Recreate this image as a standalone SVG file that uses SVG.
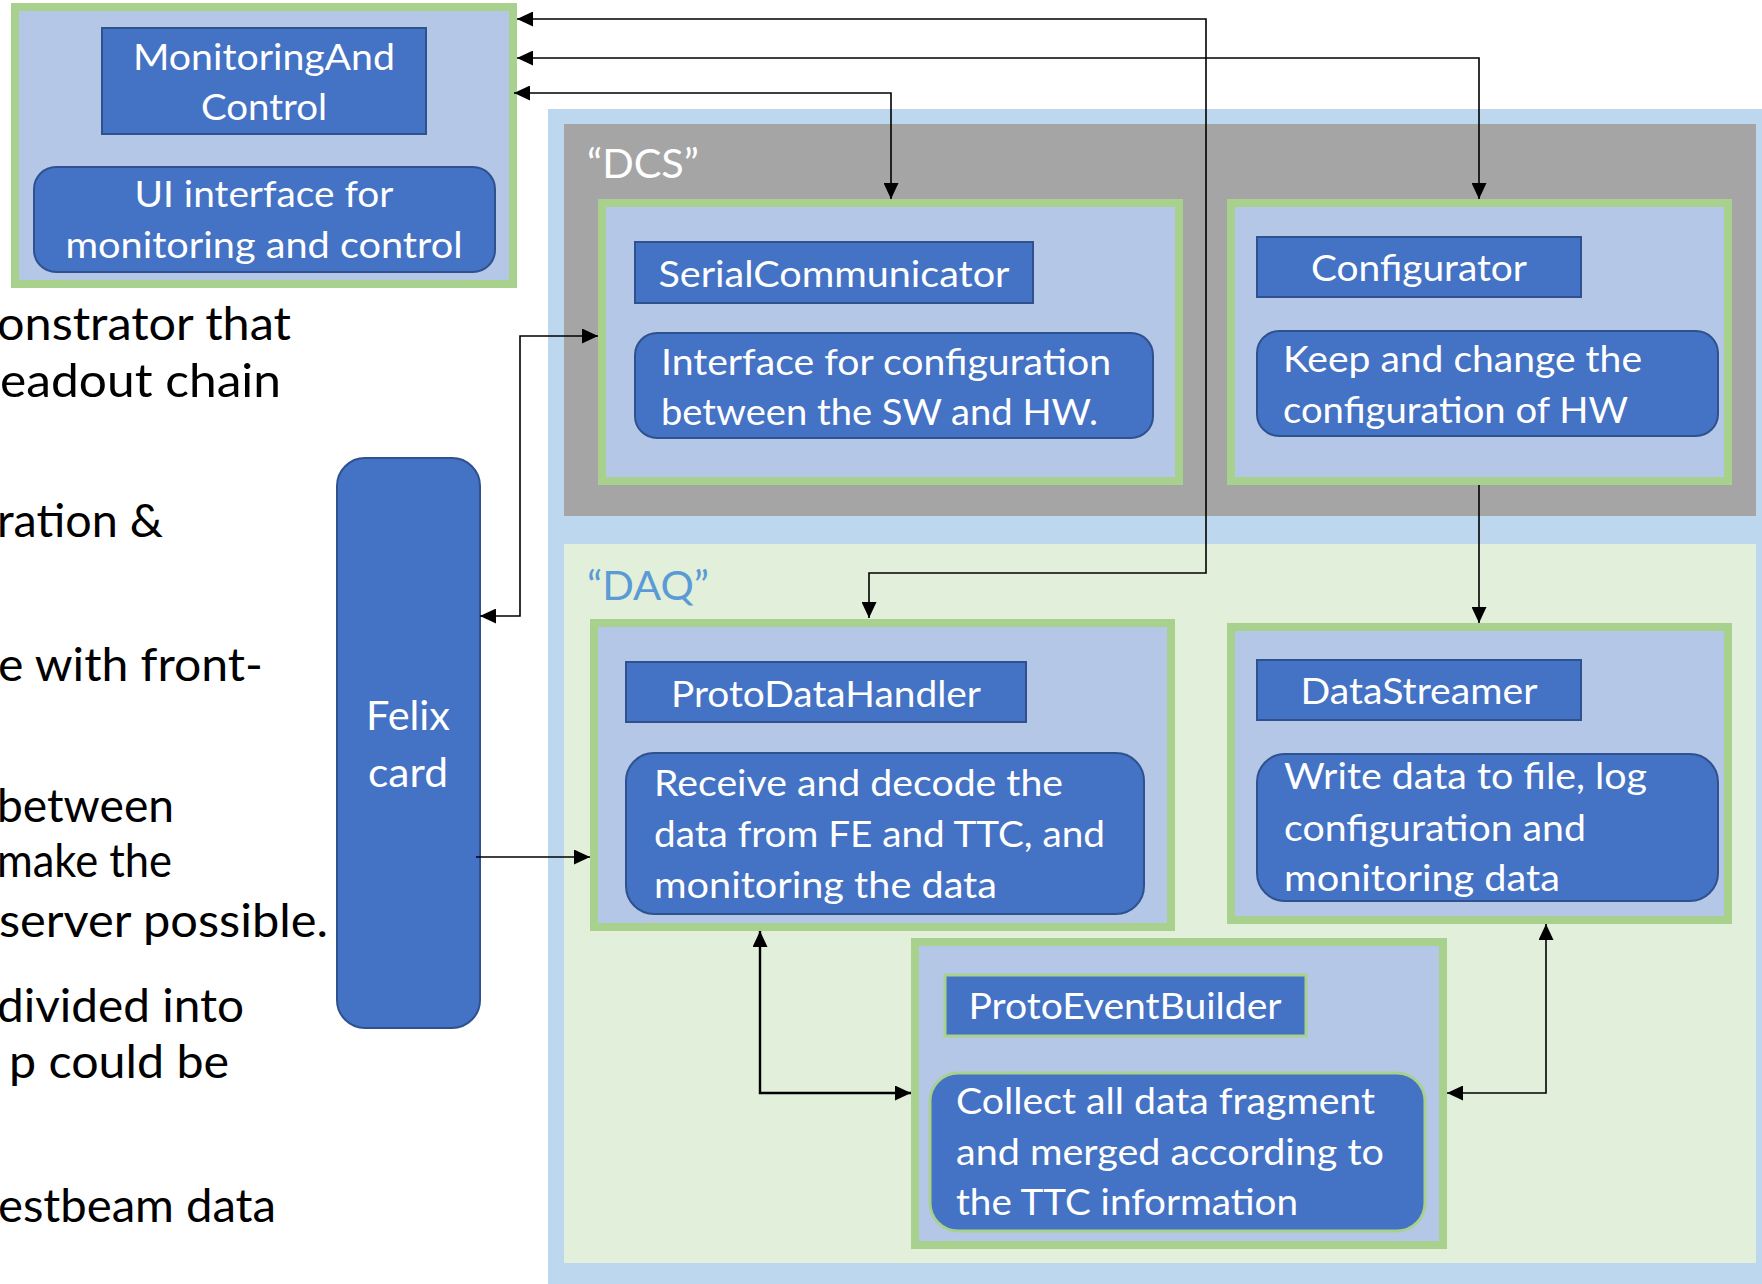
<svg xmlns="http://www.w3.org/2000/svg" width="1762" height="1284" viewBox="0 0 1762 1284">
  <style>
    .frame { fill: #B4C7E7; stroke: #A9D18E; stroke-width: 8; }
    .box { fill: #4472C4; stroke: #2F528F; stroke-width: 2; }
    .box-g { fill: #4472C4; stroke: #A9D18E; stroke-width: 3; }
    .t { font-family: Lato, "Open Sans", "Liberation Sans", sans-serif; fill: #FFFFFF; font-size: 37.5px; }
    .c { text-anchor: middle; }
    .big { font-size: 41px; }
    .body { font-family: Lato, "Open Sans", "Liberation Sans", sans-serif; fill: #000000; font-size: 46.5px; }
    .wire { fill: none; stroke: #000000; stroke-width: 1.6; }
    .wire-b { fill: none; stroke: #000000; stroke-width: 2.4; }
  </style>
  <defs>
    <marker id="arrow" viewBox="0 0 16 15" refX="16" refY="7.5" markerWidth="16" markerHeight="15" markerUnits="userSpaceOnUse" orient="auto-start-reverse">
      <path d="M0,0 L16,7.5 L0,15 z" fill="#000000"/>
    </marker>
  </defs>

  <rect width="1762" height="1284" fill="#FFFFFF"/>

  <!-- body text on the left -->
  <g id="body-text">
    <text class="body" x="-3" y="340" textLength="294" lengthAdjust="spacingAndGlyphs">onstrator that</text>
    <text class="body" x="0" y="397" textLength="281" lengthAdjust="spacingAndGlyphs">eadout chain</text>
    <text class="body" x="-3" y="537" textLength="166" lengthAdjust="spacingAndGlyphs">ration &amp;</text>
    <text class="body" x="-2" y="681" textLength="265" lengthAdjust="spacingAndGlyphs">e with front-</text>
    <text class="body" x="-3" y="822" textLength="177" lengthAdjust="spacingAndGlyphs">between</text>
    <text class="body" x="-3" y="877" textLength="175" lengthAdjust="spacingAndGlyphs">make the</text>
    <text class="body" x="-1" y="937" textLength="329" lengthAdjust="spacingAndGlyphs">server possible.</text>
    <text class="body" x="-3" y="1022" textLength="247" lengthAdjust="spacingAndGlyphs">divided into</text>
    <text class="body" x="9" y="1078" textLength="220" lengthAdjust="spacingAndGlyphs">p could be</text>
    <text class="body" x="-2" y="1222" textLength="278" lengthAdjust="spacingAndGlyphs">estbeam data</text>
  </g>

  <!-- outer system container with the DCS and DAQ areas -->
  <g id="system">
    <rect x="548" y="109" width="1214" height="1175" fill="#BDD7EE"/>
    <rect x="564" y="124" width="1192" height="392" fill="#A5A5A5"/>
    <rect x="564" y="544" width="1192" height="719" fill="#E2EFDA"/>
    <text class="t big" x="587" y="178" textLength="112" lengthAdjust="spacingAndGlyphs">“DCS”</text>
    <text class="t big" x="587" y="600" style="fill:#5B9BD5" textLength="122" lengthAdjust="spacingAndGlyphs">“DAQ”</text>
  </g>

  <!-- MonitoringAndControl -->
  <g id="monitoring-and-control">
    <rect class="frame" x="15" y="7" width="498" height="277"/>
    <rect class="box" x="102" y="28" width="324" height="106"/>
    <text class="t c" x="264" y="70" textLength="262" lengthAdjust="spacingAndGlyphs">MonitoringAnd</text>
    <text class="t c" x="264" y="120" textLength="126" lengthAdjust="spacingAndGlyphs">Control</text>
    <rect class="box" x="34" y="167" width="461" height="105" rx="22"/>
    <text class="t c" x="264" y="207" textLength="259" lengthAdjust="spacingAndGlyphs">UI interface for</text>
    <text class="t c" x="264" y="258" textLength="397" lengthAdjust="spacingAndGlyphs">monitoring and control</text>
  </g>

  <!-- Felix card -->
  <g id="felix-card">
    <rect class="box" x="337" y="458" width="143" height="570" rx="28"/>
    <text class="t c big" x="408" y="730" textLength="84" lengthAdjust="spacingAndGlyphs">Felix</text>
    <text class="t c big" x="408" y="787" textLength="80" lengthAdjust="spacingAndGlyphs">card</text>
  </g>

  <!-- SerialCommunicator -->
  <g id="serial-communicator">
    <rect class="frame" x="602" y="203" width="577" height="278"/>
    <rect class="box" x="635" y="242" width="398" height="61"/>
    <text class="t c" x="834" y="287" textLength="351" lengthAdjust="spacingAndGlyphs">SerialCommunicator</text>
    <rect class="box" x="635" y="333" width="518" height="105" rx="22"/>
    <text class="t" x="661" y="375" textLength="450" lengthAdjust="spacingAndGlyphs">Interface for configuration</text>
    <text class="t" x="661" y="425" textLength="437" lengthAdjust="spacingAndGlyphs">between the SW and HW.</text>
  </g>

  <!-- Configurator -->
  <g id="configurator">
    <rect class="frame" x="1231" y="203" width="497" height="278"/>
    <rect class="box" x="1257" y="237" width="324" height="60"/>
    <text class="t c" x="1419" y="281" textLength="216" lengthAdjust="spacingAndGlyphs">Configurator</text>
    <rect class="box" x="1257" y="331" width="461" height="105" rx="22"/>
    <text class="t" x="1283" y="372" textLength="359" lengthAdjust="spacingAndGlyphs">Keep and change the</text>
    <text class="t" x="1283" y="423" textLength="345" lengthAdjust="spacingAndGlyphs">configuration of HW</text>
  </g>

  <!-- ProtoDataHandler -->
  <g id="proto-data-handler">
    <rect class="frame" x="594" y="623" width="577" height="304"/>
    <rect class="box" x="626" y="662" width="400" height="60"/>
    <text class="t c" x="826" y="707" textLength="310" lengthAdjust="spacingAndGlyphs">ProtoDataHandler</text>
    <rect class="box" x="626" y="753" width="518" height="161" rx="28"/>
    <text class="t" x="654" y="796" textLength="409" lengthAdjust="spacingAndGlyphs">Receive and decode the</text>
    <text class="t" x="654" y="847" textLength="451" lengthAdjust="spacingAndGlyphs">data from FE and TTC, and</text>
    <text class="t" x="654" y="898" textLength="343" lengthAdjust="spacingAndGlyphs">monitoring the data</text>
  </g>

  <!-- DataStreamer -->
  <g id="data-streamer">
    <rect class="frame" x="1231" y="627" width="497" height="293"/>
    <rect class="box" x="1257" y="660" width="324" height="60"/>
    <text class="t c" x="1419" y="704" textLength="237" lengthAdjust="spacingAndGlyphs">DataStreamer</text>
    <rect class="box" x="1257" y="754" width="461" height="147" rx="28"/>
    <text class="t" x="1284" y="789" textLength="363" lengthAdjust="spacingAndGlyphs">Write data to file, log</text>
    <text class="t" x="1284" y="841" textLength="302" lengthAdjust="spacingAndGlyphs">configuration and</text>
    <text class="t" x="1284" y="891" textLength="276" lengthAdjust="spacingAndGlyphs">monitoring data</text>
  </g>

  <!-- ProtoEventBuilder -->
  <g id="proto-event-builder">
    <rect class="frame" x="915" y="942" width="528" height="303"/>
    <rect class="box-g" x="945" y="975" width="361" height="61"/>
    <text class="t c" x="1125" y="1019" textLength="313" lengthAdjust="spacingAndGlyphs">ProtoEventBuilder</text>
    <rect class="box-g" x="930" y="1073" width="495" height="158" rx="28"/>
    <text class="t" x="956" y="1114" textLength="419" lengthAdjust="spacingAndGlyphs">Collect all data fragment</text>
    <text class="t" x="956" y="1165" textLength="428" lengthAdjust="spacingAndGlyphs">and merged according to</text>
    <text class="t" x="956" y="1215" textLength="342" lengthAdjust="spacingAndGlyphs">the TTC information</text>
  </g>

  <!-- connectors -->
  <g id="connectors">
    <path class="wire" d="M517 19 H1206 V573 H869 V618" marker-start="url(#arrow)" marker-end="url(#arrow)"/>
    <path class="wire" d="M517 58 H1479 V199" marker-start="url(#arrow)" marker-end="url(#arrow)"/>
    <path class="wire" d="M514 93 H891 V199" marker-start="url(#arrow)" marker-end="url(#arrow)"/>
    <path class="wire" d="M480 616 H520 V336 H598" marker-start="url(#arrow)" marker-end="url(#arrow)"/>
    <path class="wire" d="M476 857 H590" marker-end="url(#arrow)"/>
    <path class="wire" d="M1479 485 V623" marker-end="url(#arrow)"/>
    <path class="wire-b" d="M760 931 V1093 H911" marker-start="url(#arrow)" marker-end="url(#arrow)"/>
    <path class="wire" d="M1546 924 V1093 H1447" marker-start="url(#arrow)" marker-end="url(#arrow)"/>
  </g>
</svg>
